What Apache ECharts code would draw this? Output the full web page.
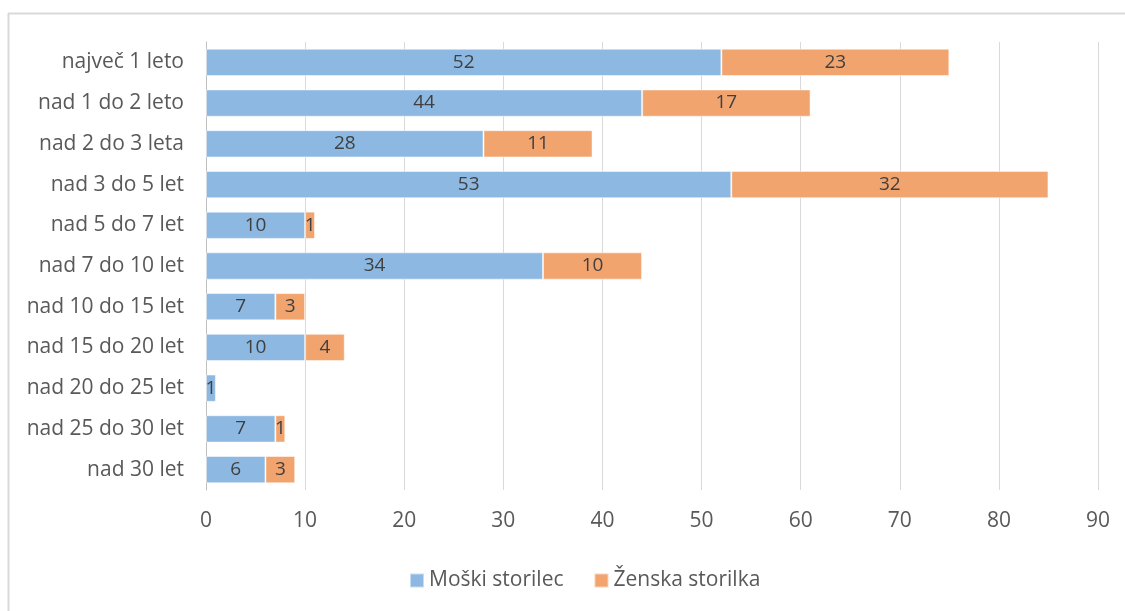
<!DOCTYPE html>
<html>
<head>
<meta charset="utf-8">
<script src="https://cdn.jsdelivr.net/npm/echarts@6/dist/echarts.min.js"></script>
<style>
  html, body { margin: 0; padding: 0; background: #fff; }
  #chart { width: 1125px; height: 611px; }
</style>
</head>
<body>
<div id="chart"></div>
<script>
const categories = [
  'največ 1 leto', 'nad 1 do 2 leto', 'nad 2 do 3 leta', 'nad 3 do 5 let',
  'nad 5 do 7 let', 'nad 7 do 10 let', 'nad 10 do 15 let', 'nad 15 do 20 let',
  'nad 20 do 25 let', 'nad 25 do 30 let', 'nad 30 let'
]
const maleValues = [52, 44, 28, 53, 10, 34, 7, 10, 1, 7, 6]
const femaleValues = [23, 17, 11, 32, 1, 10, 3, 4, null, 1, 3]
const seriesNames = ['Moški storilec', 'Ženska storilka']
const seriesColors = ['#8cb8e2', '#f2a46f']

const font = '"Open Sans", sans-serif'
const chart = echarts.init(document.getElementById('chart'))

const makeSeries = (name, data, color) => ({
  name,
  type: 'bar',
  stack: 'total',
  data,
  barCategoryGap: '33%',
  itemStyle: { color, borderColor: 'rgba(255,255,255,0.5)', borderWidth: 1 },
  label: {
    show: true,
    position: 'inside',
    color: '#404040',
    fontFamily: font,
    fontSize: 19
  },
  emphasis: { disabled: true }
})

chart.setOption({
  animation: false,
  backgroundColor: '#fff',
  grid: { left: 206, right: 27, top: 42, bottom: 121 },
  legend: {
    bottom: 15,
    left: 404,
    itemWidth: 14,
    itemHeight: 14,
    itemGap: 30,
    icon: 'rect',
    textStyle: { color: '#595959', fontFamily: font, fontSize: 21 },
    data: seriesNames
  },
  xAxis: {
    type: 'value',
    min: 0,
    max: 90,
    interval: 10,
    axisLine: { show: false },
    axisTick: { show: false },
    axisLabel: { color: '#595959', fontFamily: font, fontSize: 21, margin: 21 },
    splitLine: { lineStyle: { color: '#d9d9d9', width: 1 } }
  },
  yAxis: {
    type: 'category',
    inverse: true,
    data: categories,
    axisLine: { show: true, lineStyle: { color: '#bfbfbf', width: 1 } },
    axisTick: { show: false },
    axisLabel: { color: '#595959', fontFamily: font, fontSize: 21, margin: 22 }
  },
  series: [
    makeSeries(seriesNames[0], maleValues, seriesColors[0]),
    makeSeries(seriesNames[1], femaleValues, seriesColors[1])
  ],
  graphic: [
    { type: 'line', shape: { x1: 8, y1: 13.5, x2: 1125, y2: 13.5 }, style: { stroke: '#d9d9d9', lineWidth: 2 } },
    { type: 'line', shape: { x1: 8.5, y1: 13, x2: 8.5, y2: 611 }, style: { stroke: '#d9d9d9', lineWidth: 2 } }
  ]
})
</script>
</body>
</html>
